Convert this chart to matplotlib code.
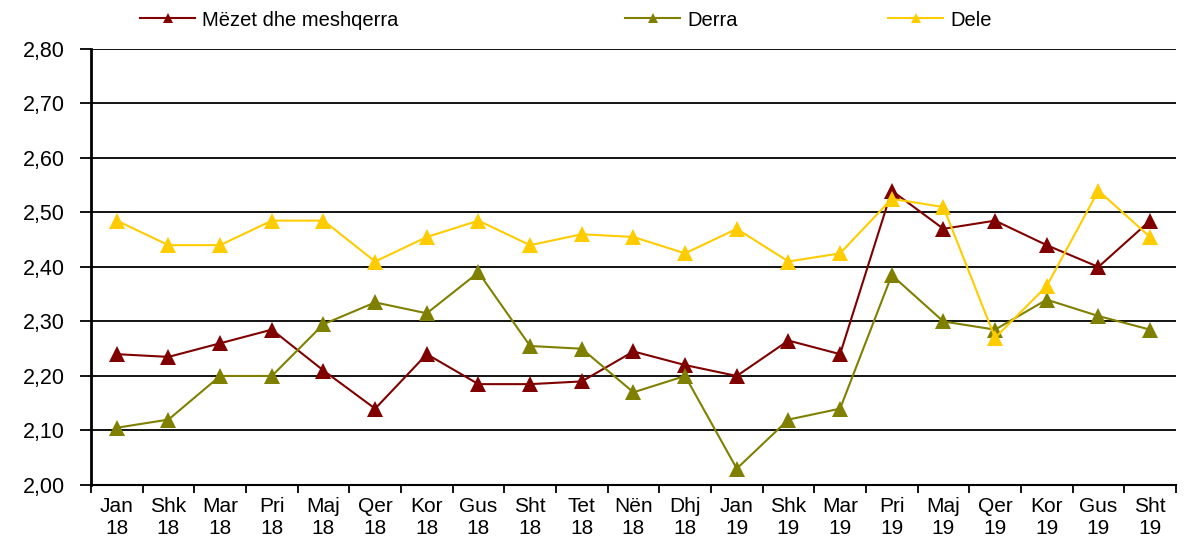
import matplotlib.pyplot as plt
from matplotlib.ticker import FuncFormatter, FixedLocator
import numpy as np

plt.rcParams['font.family'] = ['Liberation Sans', 'DejaVu Sans']

# Categories (months)
months = ['Jan', 'Shk', 'Mar', 'Pri', 'Maj', 'Qer', 'Kor', 'Gus', 'Sht', 'Tet', 'Nën', 'Dhj',
          'Jan', 'Shk', 'Mar', 'Pri', 'Maj', 'Qer', 'Kor', 'Gus', 'Sht']
years = ['18'] * 12 + ['19'] * 9

# Series values
mezet = [2.24, 2.235, 2.26, 2.285, 2.21, 2.14, 2.24, 2.185, 2.185, 2.19, 2.245, 2.22,
         2.20, 2.265, 2.24, 2.54, 2.47, 2.485, 2.44, 2.40, 2.485]
derra = [2.105, 2.12, 2.20, 2.20, 2.295, 2.335, 2.315, 2.39, 2.255, 2.25, 2.17, 2.20,
         2.03, 2.12, 2.14, 2.385, 2.30, 2.285, 2.34, 2.31, 2.285]
dele = [2.485, 2.44, 2.44, 2.485, 2.485, 2.41, 2.455, 2.485, 2.44, 2.46, 2.455, 2.425,
        2.47, 2.41, 2.425, 2.525, 2.51, 2.27, 2.365, 2.54, 2.455]

series = [('Mëzet dhe meshqerra', mezet, '#800000'),
          ('Derra', derra, '#808000'),
          ('Dele', dele, '#FFCC00')]

fig = plt.figure(figsize=(11.85, 5.44), dpi=100)
ax = fig.add_axes([0.0768, 0.1085, 0.9155, 0.8015])

x = np.arange(len(months))
lines = []
for name, vals, col in series:
    ln, = ax.plot(x, vals, color=col, lw=1.5, marker='^', markersize=12,
                  markeredgewidth=0, label=name, zorder=3)
    lines.append(ln)

ax.set_xlim(-0.5, len(months) - 0.5)
ax.set_ylim(2.0, 2.8)
ax.set_yticks(np.arange(2.0, 2.81, 0.1))
ax.yaxis.set_major_formatter(FuncFormatter(lambda v, p: f'{v:.2f}'.replace('.', ',')))
ax.tick_params(axis='y', labelsize=15.5, length=8, width=1.3, direction='out', pad=11)

ax.set_xticks(x)
ax.set_xticklabels([f'{m}\n{y}' for m, y in zip(months, years)], linespacing=1.2)
ax.tick_params(axis='x', which='major', length=0, labelsize=15, pad=9)
ax.xaxis.set_minor_locator(FixedLocator(np.arange(-0.5, len(months), 1.0)))
ax.tick_params(axis='x', which='minor', length=6, width=1.3, direction='out')

ax.yaxis.grid(True, color='black', lw=1.3)
ax.set_axisbelow(True)
for s in ['top', 'right']:
    ax.spines[s].set_visible(False)
ax.spines['left'].set_linewidth(2)
ax.spines['bottom'].set_linewidth(1.5)

# Legend entries placed individually across the top
legend_x = [140, 625, 888]
for ln, lx in zip(lines, legend_x):
    leg = fig.legend([ln], [ln.get_label()], loc='center left',
                     bbox_to_anchor=(lx / 1185, 1 - 20 / 544), frameon=False,
                     fontsize=14.5, handlelength=2.75, handletextpad=0.35, borderpad=0,
                     borderaxespad=0, markerscale=0.65)

fig.savefig('out.png', dpi=100)
